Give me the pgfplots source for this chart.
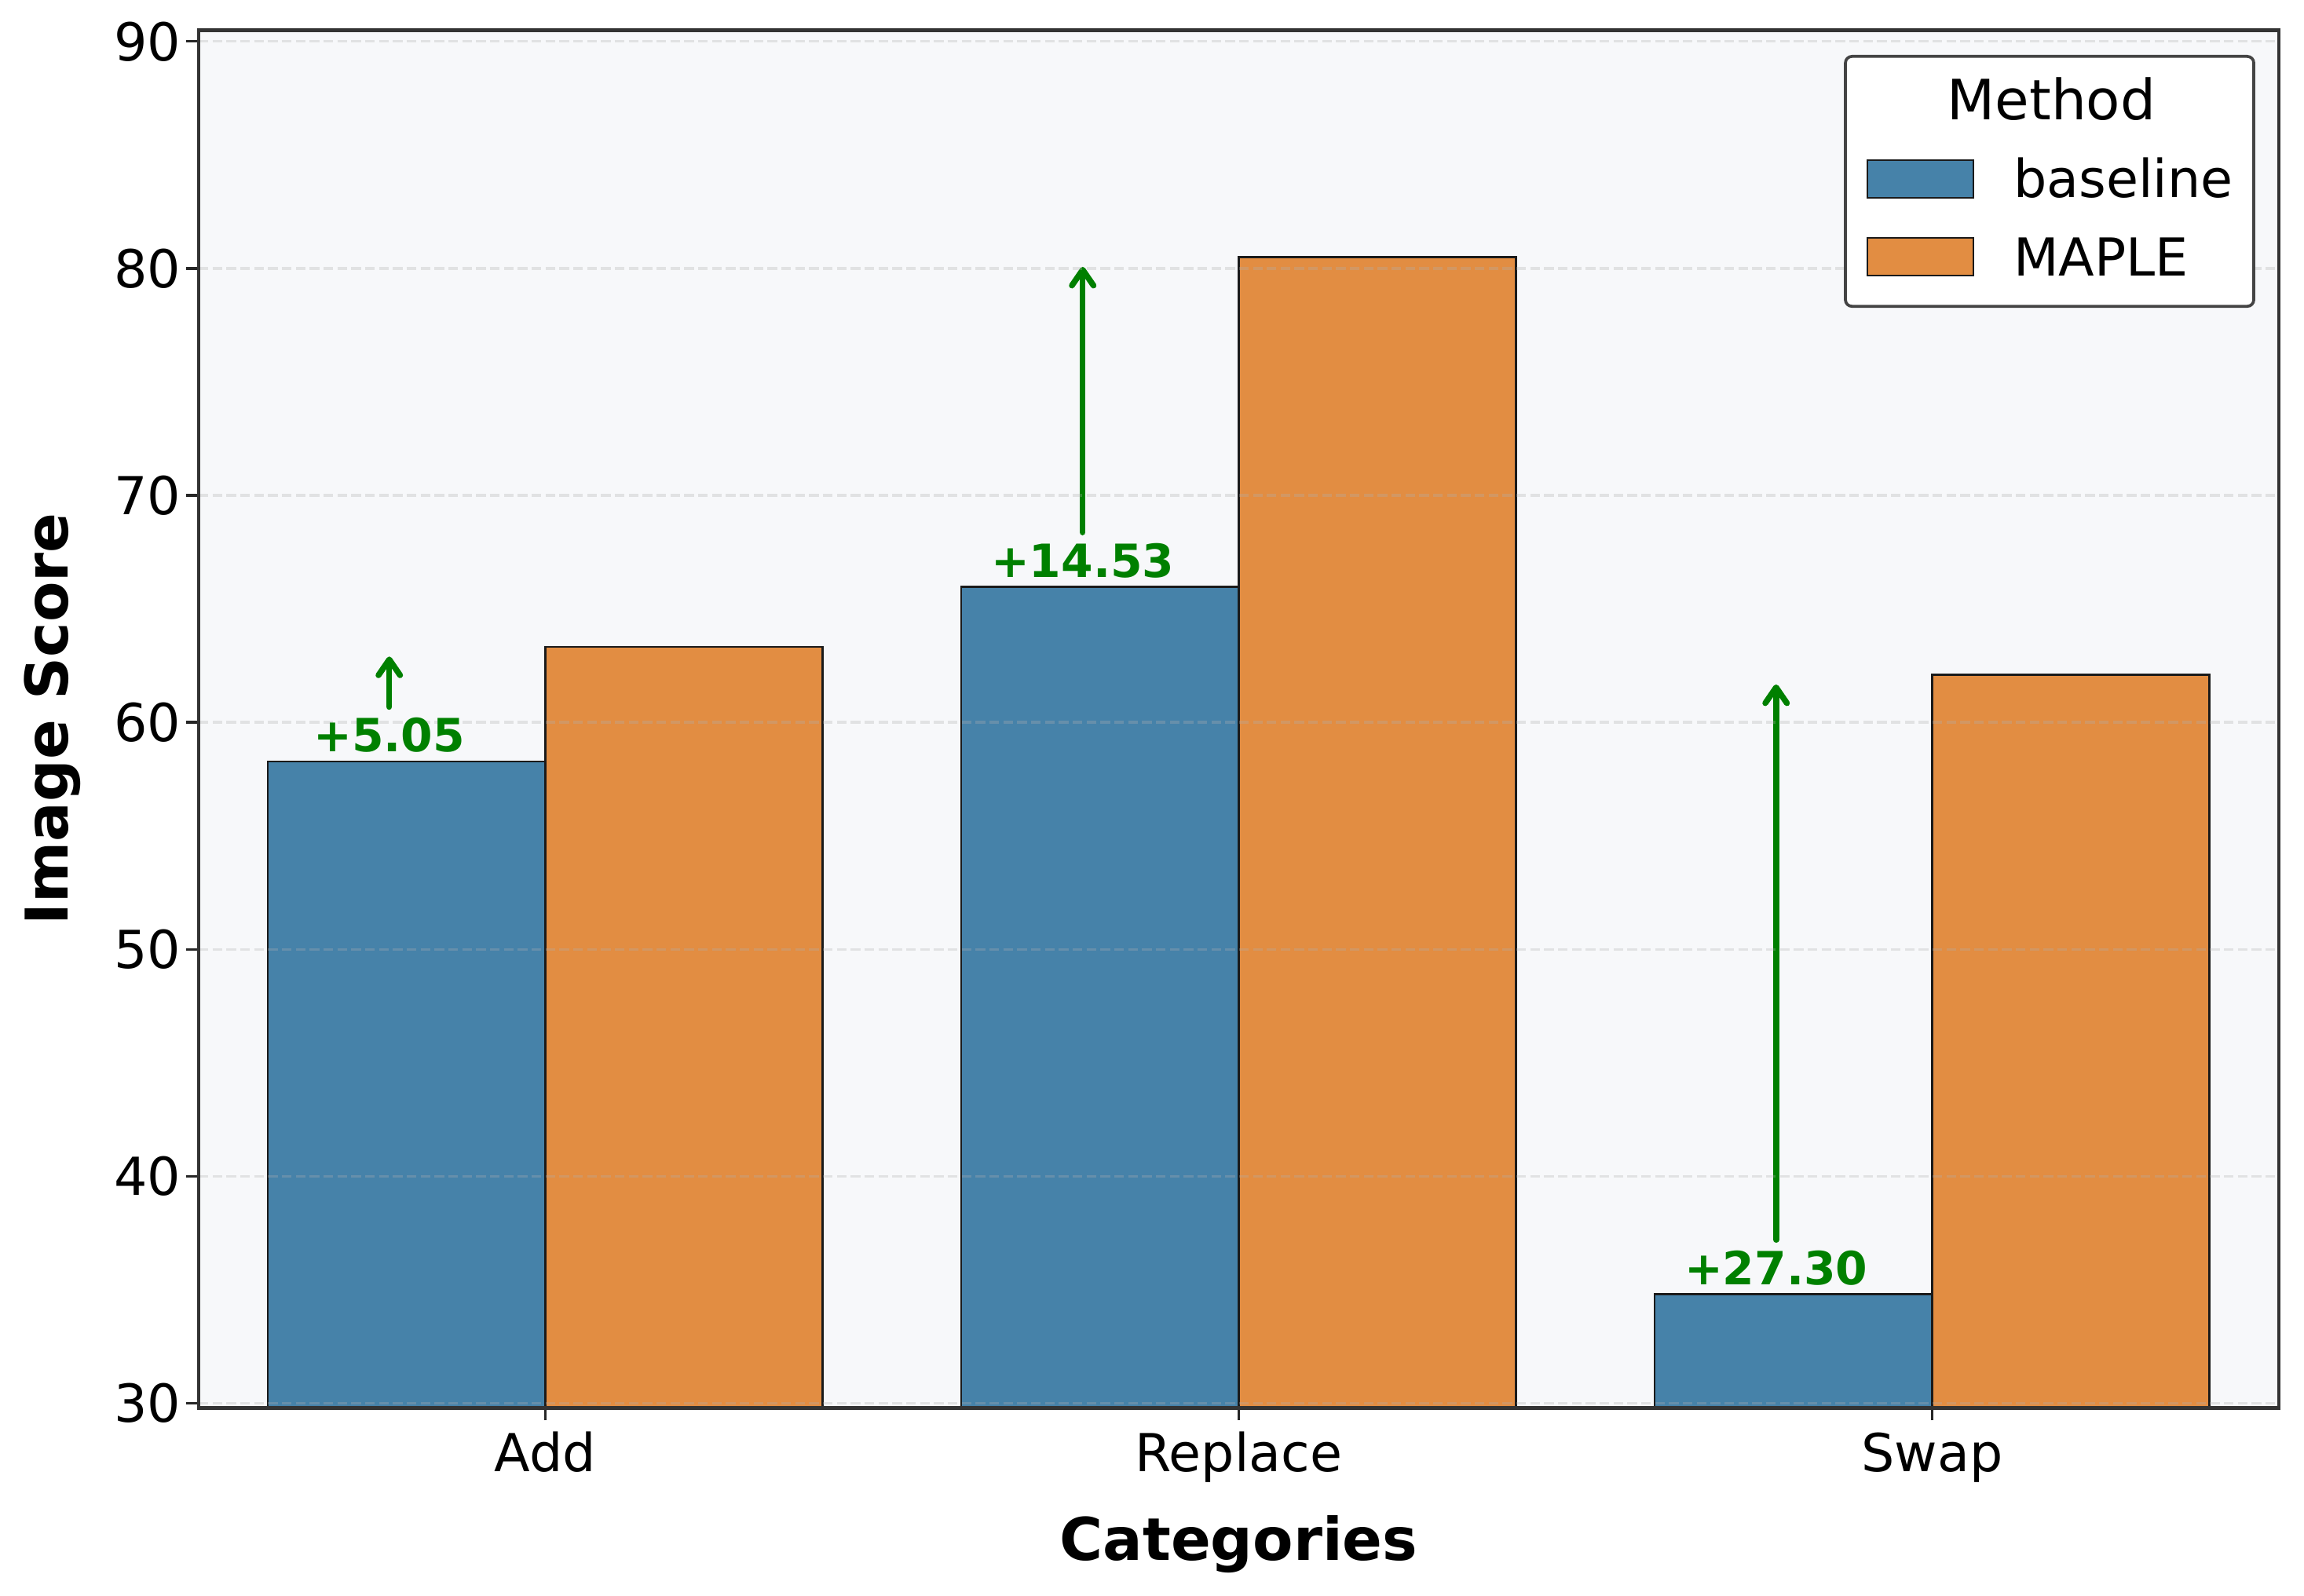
\documentclass[border=0pt]{standalone}
\usepackage{pgfplots}
\pgfplotsset{compat=1.18}
\usepackage{pgfplotstable}
\usetikzlibrary{arrows.meta}
\usepackage{fontspec}
\setmainfont{DejaVu Sans}

\definecolor{cBase}{RGB}{70,130,169}
\definecolor{cMaple}{RGB}{226,141,66}
\definecolor{bgc}{RGB}{247,248,250}
\definecolor{framec}{RGB}{51,51,51}
\definecolor{gridc}{RGB}{176,176,176}
\definecolor{annot}{RGB}{0,128,0}
\definecolor{edgec}{RGB}{26,26,26}
\definecolor{legc}{RGB}{68,68,68}

\pgfplotstableread{
x base maple
0 58.28 63.33
1 65.97 80.50
2 34.80 62.10
}\scores

\pgfplotstableread{
x base maple label
-0.225 58.28 63.33 +5.05
0.775 65.97 80.50 +14.53
1.775 34.80 62.10 +27.30
}\gains

\begin{document}
\begin{tikzpicture}
\begin{axis}[
  name=ax,
  width=635.8bp, height=421.2bp, scale only axis,
  xmin=-0.5, xmax=2.5, ymin=29.8, ymax=90.5,
  xtick={0,1,2}, xticklabels={Add,Replace,Swap},
  ytick={30,40,...,90},
  tick align=outside, xtick pos=left, ytick pos=left,
  major tick length=3.8bp,
  tick style={line width=0.8bp, color=black!85},
  axis line style={line width=1.1bp, draw=framec},
  axis background/.style={fill=bgc},
  ymajorgrids,
  major grid style={draw=gridc, draw opacity=0.3, line width=0.8bp, dash pattern=on 2.96bp off 1.28bp},
  axis on top,
  ticklabel style={font=\fontsize{16bp}{19bp}\selectfont},
  /pgf/number format/assume math mode=true,
  yticklabel style={inner xsep=0pt, xshift=-1.5bp},
  xticklabel style={anchor=base, inner sep=0pt, yshift=-15.8bp},
  xlabel={Categories}, ylabel={Image Score},
  xlabel style={font=\bfseries\fontsize{18bp}{21bp}\selectfont, at={(axis description cs:0.5,-0.1109)}, anchor=base},
  ylabel style={font=\bfseries\fontsize{18bp}{21bp}\selectfont, at={(axis description cs:-0.06276,0.5)}, anchor=base},
  legend style={at={(1,1)}, anchor=north east, xshift=-7.2bp, yshift=-7.6bp,
    draw=legc, line width=0.9bp, rounded corners=2bp, fill=white,
    inner xsep=6.4bp, inner ysep=6.5bp, row sep=8.9bp, column sep=12bp,
    font=\fontsize{16bp}{19bp}\selectfont,
    nodes={inner sep=0pt, text height=12bp, text depth=2.9bp}},
  legend cell align=left,
]
\addlegendimage{empty legend}
\addlegendentry[font=\fontsize{17bp}{20bp}\selectfont, text height=12.9bp, text depth=2.9bp]{\hspace*{-20.3bp}Method}

\addplot[ybar, bar width=0.4, bar shift=-0.2, fill=cBase, draw=edgec, line width=0.6bp,
  legend image code/.code={\draw[fill=cBase, draw=edgec, line width=0.6bp, sharp corners] (0bp,-4.55bp) rectangle (32.4bp,6.95bp);}]
  table[x=x, y=base] {\scores};
\addlegendentry{baseline}

\addplot[ybar, bar width=0.4, bar shift=0.2, fill=cMaple, draw=edgec, line width=0.6bp,
  legend image code/.code={\draw[fill=cMaple, draw=edgec, line width=0.6bp, sharp corners] (0bp,-4.55bp) rectangle (32.4bp,6.95bp);}]
  table[x=x, y=maple] {\scores};
\addlegendentry{MAPLE}

\addplot[forget plot, annot, line width=1.8bp, line cap=round, mark=none,
  -{Straight Barb[length=4.8bp,width=6.6bp,round]}, shorten >=3bp,
  quiver={u=0, v=\thisrow{maple}-\thisrow{base}-2.4}]
  table[x=x, y expr=\thisrow{base}+2.4] {\gains};

\addplot[forget plot, draw=none, mark=none,
  nodes near coords, point meta=explicit symbolic,
  nodes near coords style={font=\bfseries\fontsize{14bp}{17bp}\selectfont, text=annot, anchor=base, inner sep=0pt, yshift=2.9bp}]
  table[x=x, y=base, meta=label] {\gains};
\end{axis}
\path (ax.south west) ++(-60.7bp,-57.5bp);
\path (ax.north east) ++(7.7bp,9.2bp);
\end{tikzpicture}
\end{document}
